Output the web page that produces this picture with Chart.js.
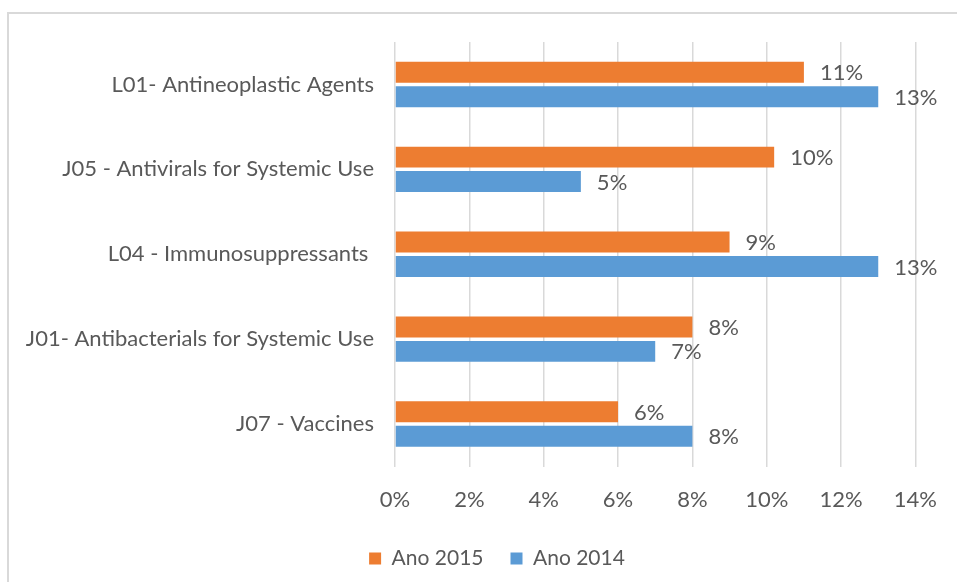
<!DOCTYPE html>
<html>
<head>
<meta charset="utf-8">
<script src="https://cdn.jsdelivr.net/npm/chart.js@4/dist/chart.umd.min.js"></script>
<style>
    body { margin: 0; background: #fff; }
    #wrap { position: relative; width: 957px; height: 582px; overflow: hidden; }
    #frame { position: absolute; left: 7px; top: 12px; width: 1000px; height: 700px;
             border-top: 2px solid #d9d9d9; border-left: 2px solid #d9d9d9; }
    #myChart { position: absolute; left: 0; top: 0; }
</style>
</head>
<body>
<div id="wrap">
    <div id="frame"></div>
    <canvas id="myChart" width="957" height="582"></canvas>
</div>
<script>
const categories = [
    'L01- Antineoplastic Agents',
    'J05 - Antivirals for Systemic Use',
    'L04 - Immunosuppressants ',
    'J01- Antibacterials for Systemic Use',
    'J07 - Vaccines'
];
const ano2015 = [11, 10.2, 9, 8, 6];
const ano2014 = [13, 5, 13, 7, 8];
const xTicks = [0, 2, 4, 6, 8, 10, 12, 14];

const textColor = '#595959';
const fontFamily = 'Lato, "Liberation Sans", sans-serif';

// value labels at the end of each bar
const barLabels = {
    id: 'barLabels',
    afterDatasetsDraw(chart) {
        const ctx = chart.ctx;
        ctx.save();
        ctx.font = '22px ' + fontFamily;
        ctx.fillStyle = textColor;
        ctx.textAlign = 'left';
        ctx.textBaseline = 'middle';
        chart.data.datasets.forEach((ds, i) => {
            chart.getDatasetMeta(i).data.forEach((bar, j) => {
                ctx.fillText(Math.round(ds.data[j]) + '%', bar.x + 16, bar.y + 1);
            });
        });
        ctx.restore();
    }
};

// legend sits a bit right of the canvas centre
const legendShift = {
    id: 'legendShift',
    afterLayout(chart) {
        chart.legend.left += 37;
        chart.legend.right += 37;
    }
};

const ctx = document.getElementById('myChart');

new Chart(ctx, {
    type: 'bar',
    data: {
        labels: categories,
        datasets: [{
            label: 'Ano 2015',
            data: ano2015,
            backgroundColor: '#ed7d31',
            categoryPercentage: 0.576,
            barPercentage: 0.857
        }, {
            label: 'Ano 2014',
            data: ano2014,
            backgroundColor: '#5b9bd5',
            categoryPercentage: 0.576,
            barPercentage: 0.857
        }]
    },
    plugins: [barLabels, legendShift],
    options: {
        indexAxis: 'y',
        responsive: false,
        animation: false,
        layout: {
            padding: { top: 42, right: 37, left: 0, bottom: 3 }
        },
        plugins: {
            tooltip: { enabled: false },
            legend: {
                position: 'bottom',
                labels: {
                    boxWidth: 12,
                    boxHeight: 12,
                    padding: 27,
                    color: textColor,
                    font: { family: fontFamily, size: 21 }
                }
            }
        },
        scales: {
            x: {
                min: 0,
                max: 14,
                afterBuildTicks: (s) => { s.ticks = xTicks.map((v) => ({ value: v })); },
                afterFit: (s) => { s.height = 54.5; },
                grid: { color: '#d9d9d9', lineWidth: 1.5, drawTicks: false },
                border: { display: false },
                ticks: {
                    padding: 20,
                    color: textColor,
                    font: { family: fontFamily, size: 22 },
                    callback: (v) => v + '%'
                }
            },
            y: {
                afterFit: (s) => { s.width = 395; },
                grid: { display: false, drawTicks: false },
                border: { display: false },
                ticks: {
                    padding: 21,
                    color: textColor,
                    font: { family: fontFamily, size: 22 }
                }
            }
        }
    }
});
</script>
</body>
</html>
